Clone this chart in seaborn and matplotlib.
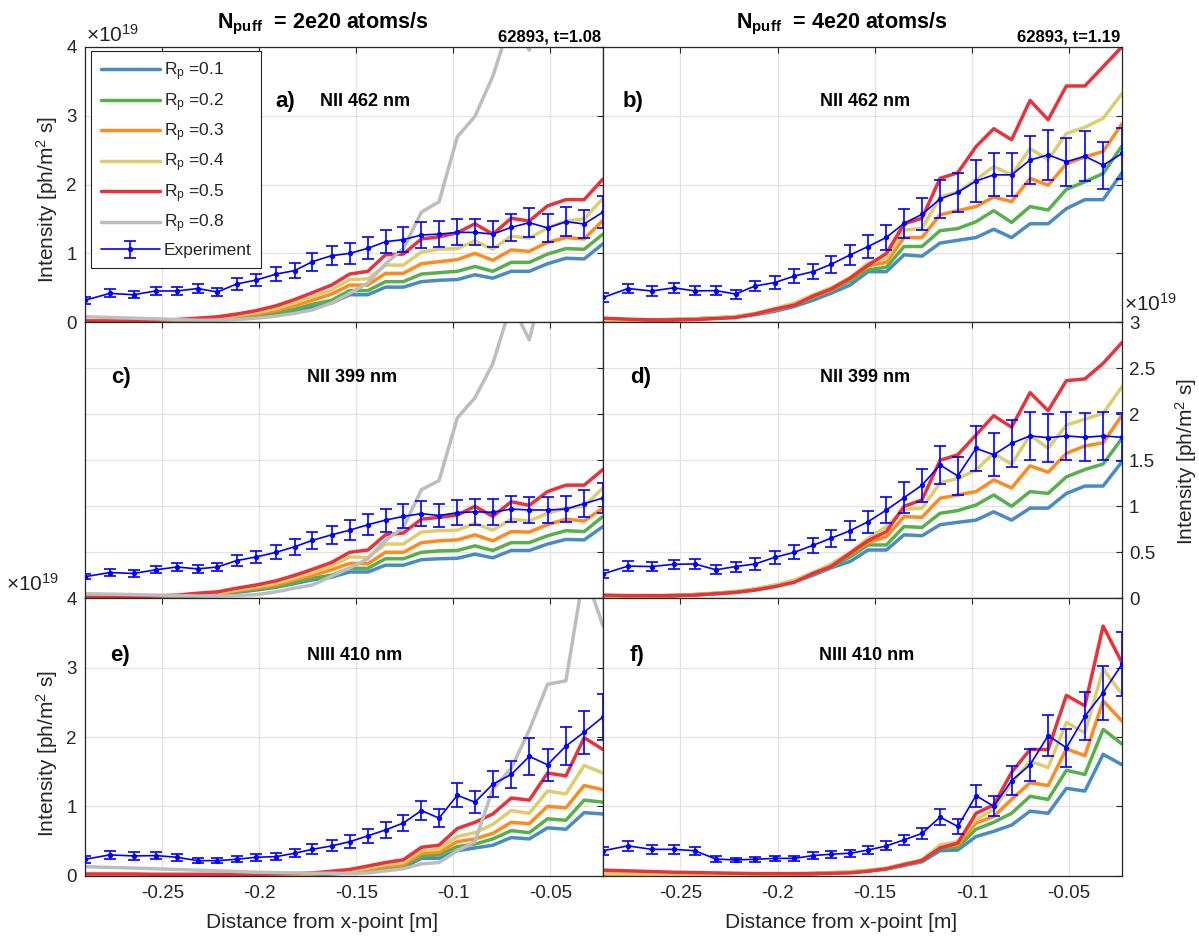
import numpy as np
import pandas as pd
import matplotlib
matplotlib.use("Agg")
import matplotlib.pyplot as plt
from matplotlib.lines import Line2D
import seaborn as sns

# ---------------- data (intensity in units of 1e19 ph/m^2 s) ----------------
X_POS = [-0.2898, -0.2770, -0.2648, -0.2533, -0.2425, -0.2317, -0.2216, -0.2116,
         -0.2015, -0.1913, -0.1818, -0.1726, -0.1627, -0.1534, -0.1440, -0.1349,
         -0.1257, -0.1164, -0.1073, -0.0979, -0.0888, -0.0796, -0.0701, -0.0608,
         -0.0514, -0.0419, -0.0325, -0.0228]
RP_LABELS = ["0.1", "0.2", "0.3", "0.4", "0.5", "0.8"]
XTICKS = [-0.25, -0.2, -0.15, -0.1, -0.05]
XTICK_LABELS = ["-0.25", "-0.2", "-0.15", "-0.1", "-0.05"]
YTICKS_4 = [0, 1, 2, 3, 4]
YTICK_LABELS_4 = ["0", "1", "2", "3", "4"]
YTICKS_3 = [0, 0.5, 1, 1.5, 2, 2.5, 3]
YTICK_LABELS_3 = ["0", "0.5", "1", "1.5", "2", "2.5", "3"]

# panel a: NII 462 nm, 2e20
exp_a = [0.32, 0.42, 0.40, 0.455, 0.455, 0.49, 0.44, 0.556, 0.614, 0.70, 0.75, 0.88, 0.967, 1.0,
         1.074, 1.17, 1.20, 1.267, 1.28, 1.305, 1.305, 1.28, 1.378, 1.446, 1.37, 1.46, 1.427, 1.6]
err_a = [0.05, 0.06, 0.05, 0.06, 0.06, 0.07, 0.06, 0.08, 0.09, 0.10, 0.11, 0.13, 0.14, 0.15,
         0.16, 0.17, 0.18, 0.19, 0.19, 0.19, 0.19, 0.19, 0.20, 0.21, 0.20, 0.21, 0.21, 0.23]
rp01_a = [0.02, 0.02, 0.02, 0.02, 0.025, 0.03, 0.04, 0.06, 0.08, 0.12, 0.17, 0.22, 0.28, 0.40,
          0.40, 0.51, 0.51, 0.59, 0.61, 0.62, 0.69, 0.64, 0.74, 0.74, 0.85, 0.93, 0.92, 1.14]
rp02_a = [0.02, 0.02, 0.02, 0.02, 0.025, 0.035, 0.045, 0.07, 0.10, 0.14, 0.19, 0.26, 0.32, 0.46,
          0.46, 0.59, 0.59, 0.70, 0.72, 0.74, 0.81, 0.74, 0.87, 0.87, 0.99, 1.07, 1.06, 1.28]
rp03_a = [0.02, 0.02, 0.02, 0.025, 0.03, 0.04, 0.05, 0.09, 0.12, 0.17, 0.24, 0.32, 0.41, 0.54,
          0.54, 0.71, 0.71, 0.85, 0.88, 0.91, 1.00, 0.90, 1.05, 1.03, 1.16, 1.23, 1.21, 1.48]
rp04_a = [0.02, 0.02, 0.02, 0.025, 0.035, 0.05, 0.07, 0.10, 0.14, 0.20, 0.28, 0.37, 0.47, 0.62,
          0.63, 0.83, 0.83, 1.02, 1.06, 1.07, 1.18, 1.06, 1.25, 1.22, 1.37, 1.47, 1.50, 1.80]
rp05_a = [0.02, 0.02, 0.02, 0.03, 0.04, 0.06, 0.08, 0.12, 0.17, 0.24, 0.33, 0.43, 0.54, 0.70,
          0.74, 0.98, 0.99, 1.21, 1.24, 1.30, 1.43, 1.28, 1.51, 1.47, 1.69, 1.78, 1.78, 2.08]
rp08_a = [0.08, 0.07, 0.06, 0.05, 0.04, 0.03, 0.03, 0.04, 0.06, 0.09, 0.13, 0.18, 0.28, 0.42,
          0.57, 0.85, 1.07, 1.60, 1.75, 2.69, 2.99, 3.57, 4.40, 3.95, 4.8, 5.5, 6.0, 6.5]

# panel b: NII 462 nm, 4e20
exp_b = [0.36, 0.49, 0.455, 0.50, 0.455, 0.46, 0.41, 0.527, 0.576, 0.672, 0.735, 0.84, 0.977, 1.10,
         1.233, 1.437, 1.567, 1.79, 1.886, 2.05, 2.14, 2.14, 2.355, 2.43, 2.33, 2.41, 2.28, 2.45]
err_b = [0.06, 0.07, 0.07, 0.07, 0.065, 0.07, 0.065, 0.07, 0.09, 0.10, 0.11, 0.12, 0.14, 0.16,
         0.18, 0.21, 0.23, 0.27, 0.28, 0.30, 0.31, 0.31, 0.35, 0.36, 0.35, 0.36, 0.34, 0.37]
rp01_b = [0.03, 0.03, 0.035, 0.04, 0.05, 0.06, 0.075, 0.11, 0.16, 0.23, 0.32, 0.42, 0.54, 0.735,
          0.735, 0.98, 0.96, 1.15, 1.19, 1.23, 1.35, 1.23, 1.43, 1.43, 1.65, 1.78, 1.78, 2.17]
rp02_b = [0.03, 0.03, 0.035, 0.04, 0.05, 0.065, 0.08, 0.12, 0.18, 0.25, 0.36, 0.46, 0.60, 0.76,
          0.80, 1.10, 1.10, 1.33, 1.36, 1.46, 1.62, 1.45, 1.68, 1.63, 1.93, 2.04, 2.16, 2.56]
rp03_b = [0.03, 0.03, 0.035, 0.04, 0.05, 0.065, 0.08, 0.12, 0.18, 0.26, 0.37, 0.47, 0.63, 0.82,
          0.87, 1.23, 1.23, 1.56, 1.62, 1.68, 1.82, 1.75, 2.09, 1.99, 2.30, 2.40, 2.48, 2.88]
rp04_b = [0.03, 0.03, 0.035, 0.04, 0.05, 0.065, 0.085, 0.13, 0.20, 0.28, 0.40, 0.50, 0.65, 0.86,
          0.93, 1.34, 1.36, 1.82, 1.89, 2.07, 2.26, 2.14, 2.52, 2.36, 2.74, 2.83, 2.96, 3.32]
rp05_b = [0.06, 0.045, 0.035, 0.035, 0.04, 0.055, 0.07, 0.12, 0.19, 0.25, 0.38, 0.48, 0.64, 0.83,
          1.00, 1.43, 1.51, 2.09, 2.17, 2.55, 2.81, 2.65, 3.22, 2.94, 3.43, 3.43, 3.71, 4.0]

# panel c: NII 399 nm, 2e20
exp_c = [0.235, 0.28, 0.27, 0.31, 0.34, 0.32, 0.34, 0.41, 0.45, 0.50, 0.56, 0.63, 0.69, 0.74,
         0.80, 0.85, 0.89, 0.92, 0.90, 0.93, 0.94, 0.935, 0.97, 0.96, 0.96, 0.97, 1.03, 1.09]
err_c = [0.03, 0.035, 0.035, 0.04, 0.045, 0.045, 0.045, 0.06, 0.065, 0.075, 0.085, 0.09, 0.10, 0.11,
         0.115, 0.125, 0.13, 0.135, 0.13, 0.135, 0.14, 0.14, 0.145, 0.14, 0.14, 0.145, 0.15, 0.16]
rp01_c = [0.01, 0.01, 0.015, 0.02, 0.025, 0.03, 0.04, 0.065, 0.09, 0.12, 0.16, 0.20, 0.23, 0.286,
          0.286, 0.36, 0.36, 0.42, 0.43, 0.435, 0.48, 0.44, 0.52, 0.52, 0.59, 0.64, 0.635, 0.78]
rp02_c = [0.01, 0.01, 0.015, 0.02, 0.025, 0.03, 0.045, 0.072, 0.10, 0.125, 0.17, 0.22, 0.25, 0.326,
          0.326, 0.43, 0.43, 0.50, 0.515, 0.52, 0.57, 0.52, 0.605, 0.605, 0.68, 0.735, 0.725, 0.89]
rp03_c = [0.01, 0.01, 0.015, 0.02, 0.025, 0.035, 0.05, 0.083, 0.11, 0.145, 0.20, 0.25, 0.31, 0.38,
          0.375, 0.50, 0.50, 0.605, 0.625, 0.635, 0.69, 0.625, 0.725, 0.72, 0.80, 0.86, 0.84, 0.98]
rp04_c = [0.01, 0.01, 0.015, 0.02, 0.03, 0.04, 0.06, 0.09, 0.125, 0.165, 0.22, 0.28, 0.35, 0.45,
          0.445, 0.59, 0.59, 0.72, 0.735, 0.74, 0.815, 0.74, 0.86, 0.84, 0.925, 0.98, 1.00, 1.20]
rp05_c = [0.01, 0.01, 0.015, 0.025, 0.035, 0.055, 0.07, 0.11, 0.145, 0.19, 0.25, 0.315, 0.39, 0.50,
          0.525, 0.69, 0.71, 0.86, 0.88, 0.905, 1.00, 0.89, 1.05, 1.01, 1.16, 1.23, 1.23, 1.40]
rp08_c = [0.05, 0.045, 0.04, 0.035, 0.03, 0.025, 0.025, 0.03, 0.04, 0.07, 0.11, 0.145, 0.24, 0.33,
          0.43, 0.63, 0.77, 1.18, 1.28, 1.96, 2.18, 2.55, 3.2, 2.81, 3.6, 4.2, 4.6, 5.0]

# panel d: NII 399 nm, 4e20
exp_d = [0.265, 0.35, 0.345, 0.37, 0.373, 0.31, 0.345, 0.373, 0.445, 0.50, 0.576, 0.652, 0.735, 0.833,
         0.96, 1.094, 1.23, 1.45, 1.33, 1.63, 1.56, 1.685, 1.765, 1.746, 1.765, 1.75, 1.765, 1.75]
err_d = [0.04, 0.055, 0.05, 0.05, 0.05, 0.05, 0.055, 0.06, 0.07, 0.075, 0.08, 0.09, 0.10, 0.12,
         0.145, 0.165, 0.18, 0.21, 0.205, 0.245, 0.235, 0.255, 0.265, 0.26, 0.26, 0.26, 0.265, 0.26]
rp01_d = [0.02, 0.02, 0.025, 0.03, 0.04, 0.05, 0.065, 0.09, 0.13, 0.18, 0.25, 0.33, 0.40, 0.525,
          0.525, 0.69, 0.68, 0.80, 0.826, 0.85, 0.94, 0.85, 0.98, 0.98, 1.14, 1.22, 1.22, 1.485]
rp02_d = [0.02, 0.02, 0.025, 0.03, 0.04, 0.055, 0.07, 0.10, 0.14, 0.19, 0.26, 0.34, 0.45, 0.58,
          0.58, 0.78, 0.77, 0.924, 0.953, 1.014, 1.123, 1.00, 1.16, 1.14, 1.32, 1.40, 1.46, 1.74]
rp03_d = [0.02, 0.02, 0.025, 0.03, 0.04, 0.055, 0.07, 0.10, 0.14, 0.19, 0.27, 0.36, 0.48, 0.605,
          0.67, 0.888, 0.88, 1.087, 1.123, 1.16, 1.286, 1.20, 1.44, 1.37, 1.576, 1.656, 1.69, 1.99]
rp04_d = [0.02, 0.02, 0.025, 0.03, 0.04, 0.055, 0.075, 0.10, 0.145, 0.20, 0.28, 0.37, 0.50, 0.65,
          0.78, 0.967, 0.978, 1.257, 1.30, 1.395, 1.576, 1.457, 1.775, 1.63, 1.884, 1.946, 2.01, 2.30]
rp05_d = [0.035, 0.03, 0.03, 0.03, 0.035, 0.05, 0.065, 0.09, 0.127, 0.175, 0.27, 0.345, 0.49, 0.627,
          0.725, 1.00, 1.07, 1.50, 1.56, 1.775, 1.985, 1.86, 2.235, 2.04, 2.366, 2.384, 2.554, 2.78]

# panel e: NIII 410 nm, 2e20
exp_e = [0.237, 0.30, 0.285, 0.29, 0.266, 0.217, 0.217, 0.237, 0.266, 0.275, 0.324, 0.38, 0.43, 0.49,
         0.575, 0.66, 0.76, 0.94, 0.83, 1.16, 1.06, 1.32, 1.46, 1.72, 1.60, 1.87, 2.07, 2.29]
err_e = [0.05, 0.06, 0.055, 0.055, 0.05, 0.04, 0.04, 0.045, 0.05, 0.055, 0.06, 0.07, 0.08, 0.09,
         0.10, 0.11, 0.12, 0.14, 0.13, 0.17, 0.16, 0.19, 0.20, 0.27, 0.23, 0.28, 0.31, 0.33]
rp01_e = [0.01, 0.01, 0.01, 0.01, 0.01, 0.01, 0.01, 0.01, 0.01, 0.01, 0.01, 0.015, 0.025, 0.04,
          0.06, 0.10, 0.12, 0.25, 0.25, 0.36, 0.40, 0.44, 0.55, 0.53, 0.69, 0.67, 0.91, 0.89]
rp02_e = [0.01, 0.01, 0.01, 0.01, 0.01, 0.01, 0.01, 0.01, 0.01, 0.01, 0.01, 0.02, 0.03, 0.05,
          0.07, 0.11, 0.14, 0.285, 0.30, 0.42, 0.455, 0.53, 0.65, 0.62, 0.82, 0.80, 1.09, 1.06]
rp03_e = [0.01, 0.01, 0.01, 0.01, 0.01, 0.01, 0.01, 0.01, 0.01, 0.01, 0.015, 0.025, 0.04, 0.06,
          0.09, 0.13, 0.16, 0.32, 0.34, 0.49, 0.53, 0.61, 0.77, 0.75, 1.00, 0.98, 1.30, 1.24]
rp04_e = [0.01, 0.01, 0.01, 0.01, 0.01, 0.01, 0.01, 0.01, 0.01, 0.015, 0.02, 0.03, 0.05, 0.07,
          0.11, 0.16, 0.19, 0.36, 0.38, 0.565, 0.62, 0.74, 0.94, 0.90, 1.22, 1.18, 1.59, 1.48]
rp05_e = [0.025, 0.025, 0.025, 0.02, 0.02, 0.02, 0.02, 0.02, 0.02, 0.025, 0.03, 0.04, 0.065, 0.09,
          0.14, 0.19, 0.23, 0.41, 0.44, 0.68, 0.77, 0.89, 1.12, 1.09, 1.48, 1.44, 1.99, 1.82]
rp08_e = [0.13, 0.12, 0.11, 0.10, 0.09, 0.08, 0.07, 0.06, 0.05, 0.045, 0.04, 0.035, 0.035, 0.03,
          0.04, 0.07, 0.10, 0.17, 0.19, 0.36, 0.49, 1.25, 1.55, 2.10, 2.76, 2.81, 4.4, 3.6]

# panel f: NIII 410 nm, 4e20
exp_f = [0.36, 0.43, 0.38, 0.38, 0.36, 0.24, 0.227, 0.237, 0.25, 0.25, 0.29, 0.31, 0.324, 0.37,
         0.43, 0.517, 0.61, 0.845, 0.71, 1.155, 1.0, 1.37, 1.60, 2.02, 1.845, 2.30, 2.64, 3.05]
err_f = [0.06, 0.07, 0.065, 0.065, 0.06, 0.04, 0.035, 0.035, 0.04, 0.04, 0.045, 0.05, 0.05, 0.055,
         0.065, 0.07, 0.085, 0.12, 0.105, 0.16, 0.145, 0.21, 0.23, 0.30, 0.275, 0.35, 0.39, 0.46]
rp01_f = [0.01, 0.01, 0.01, 0.01, 0.01, 0.01, 0.01, 0.015, 0.02, 0.025, 0.03, 0.04, 0.05, 0.07,
          0.10, 0.15, 0.20, 0.36, 0.37, 0.565, 0.64, 0.73, 0.93, 0.90, 1.26, 1.22, 1.75, 1.60]
rp02_f = [0.015, 0.015, 0.01, 0.01, 0.01, 0.01, 0.01, 0.015, 0.02, 0.025, 0.03, 0.04, 0.05, 0.07,
          0.10, 0.15, 0.21, 0.40, 0.41, 0.67, 0.77, 0.90, 1.145, 1.10, 1.52, 1.46, 2.11, 1.90]
rp03_f = [0.02, 0.02, 0.015, 0.015, 0.015, 0.015, 0.015, 0.015, 0.02, 0.025, 0.03, 0.04, 0.055, 0.075,
          0.10, 0.16, 0.22, 0.42, 0.445, 0.76, 0.855, 1.10, 1.34, 1.30, 1.83, 1.73, 2.52, 2.23]
rp04_f = [0.03, 0.025, 0.02, 0.02, 0.02, 0.02, 0.02, 0.02, 0.025, 0.03, 0.035, 0.045, 0.06, 0.08,
          0.11, 0.17, 0.23, 0.445, 0.49, 0.81, 0.95, 1.34, 1.65, 1.56, 2.21, 2.06, 2.98, 2.62]
rp05_f = [0.08, 0.07, 0.06, 0.05, 0.045, 0.04, 0.035, 0.03, 0.03, 0.03, 0.03, 0.035, 0.04, 0.065,
          0.10, 0.16, 0.22, 0.40, 0.47, 0.90, 1.02, 1.49, 1.82, 1.82, 2.60, 2.45, 3.60, 3.07]

# ---------------- style ----------------
sns.set_theme(style="white")
plt.rcParams['font.family'] = ['Liberation Sans', 'DejaVu Sans']
plt.rcParams['mathtext.default'] = 'regular'
plt.rcParams['axes.unicode_minus'] = False

MODEL_COLORS = ['#4A8BC4', '#57B04B', '#FF8A1F', '#DCCD6F', '#E8333A', '#BDBDBD']
EXP_COLOR = '#0000FF'
AX_COLOR = '#262626'
GRID_COLOR = '#E3E3E3'
LABEL_FS = 15

W, H = 1199, 936
fig = plt.figure(figsize=(W / 100, H / 100), dpi=100)
fig.patch.set_facecolor('white')

COLS = [(85, 603), (603, 1122)]
ROWS = [(46.7, 322.3), (322.3, 598.3), (598.3, 875.7)]


def add_ax(c, r):
    x0, x1 = COLS[c]
    y0, y1 = ROWS[r]
    return fig.add_axes([x0 / W, 1 - y1 / H, (x1 - x0) / W, (y1 - y0) / H])


def ftext(x, y, s, **kw):
    return fig.text(x / W, 1 - y / H, s, **kw)


def draw_panel(ax, models, exp, err, ymax, yticks, ylabels):
    rows = []
    for rp, vals in zip(RP_LABELS, models):
        for xv, v in zip(X_POS, vals):
            rows.append((xv, v, rp))
    df = pd.DataFrame(rows, columns=['x', 'I', 'Rp'])
    order = RP_LABELS[:len(models)]
    sns.lineplot(data=df, x='x', y='I', hue='Rp', hue_order=order,
                 palette=dict(zip(RP_LABELS, MODEL_COLORS)), linewidth=2.5,
                 legend=False, ax=ax, estimator=None, sort=False, zorder=2)
    eb = ax.errorbar(X_POS, exp, yerr=err, color=EXP_COLOR, lw=1.2, elinewidth=1.2,
                     capsize=4.5, capthick=1.2, marker='o', ms=2.8, zorder=4)
    ax.set_xlim(X_POS[0], X_POS[-1])
    ax.set_ylim(0, ymax)
    ax.set_xticks(XTICKS)
    ax.set_xticklabels(XTICK_LABELS)
    ax.set_yticks(yticks)
    ax.set_yticklabels(ylabels)
    ax.grid(True, color=GRID_COLOR, lw=0.9)
    ax.set_axisbelow(True)
    ax.tick_params(direction='in', length=4, width=0.8, top=True, right=True,
                   colors=AX_COLOR, labelsize=13.5, labelcolor=AX_COLOR)
    ax.tick_params(axis='y', pad=6)
    ax.tick_params(axis='x', pad=7)
    for s in ax.spines.values():
        s.set_color(AX_COLOR)
        s.set_linewidth(0.9)
    ax.set_xlabel('')
    ax.set_ylabel('')
    ax.set_facecolor('white')
    return eb


YLAB = 'Intensity [ph/m$^{2}$ s]'
XLAB = 'Distance from x-point [m]'


def set_ylab(ax, xf, yf):
    ax.set_ylabel(YLAB, fontsize=LABEL_FS, color=AX_COLOR)
    ax.yaxis.set_label_coords(xf, yf)
    ax.yaxis.label.set_rotation(90)
    ax.yaxis.label.set_verticalalignment('center')
    ax.yaxis.label.set_horizontalalignment('center')


def set_xlab(ax, xf, yf):
    ax.set_xlabel(XLAB, fontsize=LABEL_FS, color=AX_COLOR)
    ax.xaxis.set_label_coords(xf, yf)
    ax.xaxis.label.set_verticalalignment('center')


# row 1
ax_a = add_ax(0, 0)
eb_a = draw_panel(ax_a, [rp01_a, rp02_a, rp03_a, rp04_a, rp05_a, rp08_a], exp_a, err_a,
                  4, YTICKS_4, YTICK_LABELS_4)
ax_a.tick_params(labelbottom=False)
set_ylab(ax_a, -0.073, 0.447)

ax_b = add_ax(1, 0)
draw_panel(ax_b, [rp01_b, rp02_b, rp03_b, rp04_b, rp05_b], exp_b, err_b,
           4, YTICKS_4, YTICK_LABELS_4)
ax_b.tick_params(labelbottom=False, labelleft=False)

# row 2
ax_c = add_ax(0, 1)
draw_panel(ax_c, [rp01_c, rp02_c, rp03_c, rp04_c, rp05_c, rp08_c], exp_c, err_c,
           3, YTICKS_3, YTICK_LABELS_3)
ax_c.tick_params(labelbottom=False, labelleft=False)

ax_d = add_ax(1, 1)
draw_panel(ax_d, [rp01_d, rp02_d, rp03_d, rp04_d, rp05_d], exp_d, err_d,
           3, YTICKS_3, YTICK_LABELS_3)
ax_d.tick_params(labelbottom=False, labelleft=False, labelright=True)
ax_d.tick_params(axis='y', pad=5)
ax_d.yaxis.set_label_position('right')
set_ylab(ax_d, (1186 - 603) / 519, 0.497)

# row 3
ax_e = add_ax(0, 2)
draw_panel(ax_e, [rp01_e, rp02_e, rp03_e, rp04_e, rp05_e, rp08_e], exp_e, err_e,
           4, YTICKS_4, YTICK_LABELS_4)
set_ylab(ax_e, -0.073, 0.442)
set_xlab(ax_e, 0.4575, -0.17)

ax_f = add_ax(1, 2)
draw_panel(ax_f, [rp01_f, rp02_f, rp03_f, rp04_f, rp05_f], exp_f, err_f,
           4, YTICKS_4, YTICK_LABELS_4)
ax_f.tick_params(labelleft=False)
set_xlab(ax_f, 0.459, -0.17)

# legend in panel a
handles = [Line2D([], [], color=c, lw=2.5) for c in MODEL_COLORS] + [eb_a]
labels = ['R$_p$ =' + r for r in RP_LABELS] + ['Experiment']
leg = ax_a.legend(handles, labels, loc='upper left', bbox_to_anchor=(0.0116, 0.984),
                  borderaxespad=0, fontsize=12.5, frameon=True, fancybox=False,
                  framealpha=1, edgecolor=AX_COLOR, handlelength=3.4, handletextpad=0.25,
                  labelspacing=0.45, borderpad=0.55)
leg.get_frame().set_linewidth(0.8)
for t in leg.get_texts():
    t.set_color(AX_COLOR)
leg.set_zorder(10)

# panel labels
BOLD = dict(fontweight='bold', color='black', va='center')
panel_text = [
    (275, 102, 'a)', 365, 'NII 462 nm'),
    (623, 102, 'b)', 865, 'NII 462 nm'),
    (111, 377, 'c)', 352, 'NII 399 nm'),
    (630, 377, 'd)', 865, 'NII 399 nm'),
    (110, 655, 'e)', 355, 'NIII 410 nm'),
    (630, 655, 'f)', 867, 'NIII 410 nm'),
]
for lx, ly, lab, nx, name in panel_text:
    ftext(lx, ly, lab, fontsize=16, ha='left', **BOLD)
    ftext(nx, ly, name, fontsize=13, ha='center', **BOLD)

# column titles and shot labels
ftext(323, 28, 'N$_{puff}$  = 2e20 atoms/s', fontsize=15.5, fontweight='bold',
      ha='center', va='baseline', color='black')
ftext(842, 28, 'N$_{puff}$  = 4e20 atoms/s', fontsize=15.5, fontweight='bold',
      ha='center', va='baseline', color='black')
ftext(601, 42, '62893, t=1.08', fontsize=12, fontweight='bold', ha='right',
      va='baseline', color='black')
ftext(1120, 42, '62893, t=1.19', fontsize=12, fontweight='bold', ha='right',
      va='baseline', color='black')

# exponent labels
EXP_TXT = r'$\times$10$^{19}$'
ftext(86, 42, EXP_TXT, fontsize=15, ha='left', va='baseline', color=AX_COLOR)
ftext(1124, 311, EXP_TXT, fontsize=15, ha='left', va='baseline', color=AX_COLOR)
ftext(6, 591, EXP_TXT, fontsize=15, ha='left', va='baseline', color=AX_COLOR)

fig.savefig('out.png', dpi=100, facecolor='white')
